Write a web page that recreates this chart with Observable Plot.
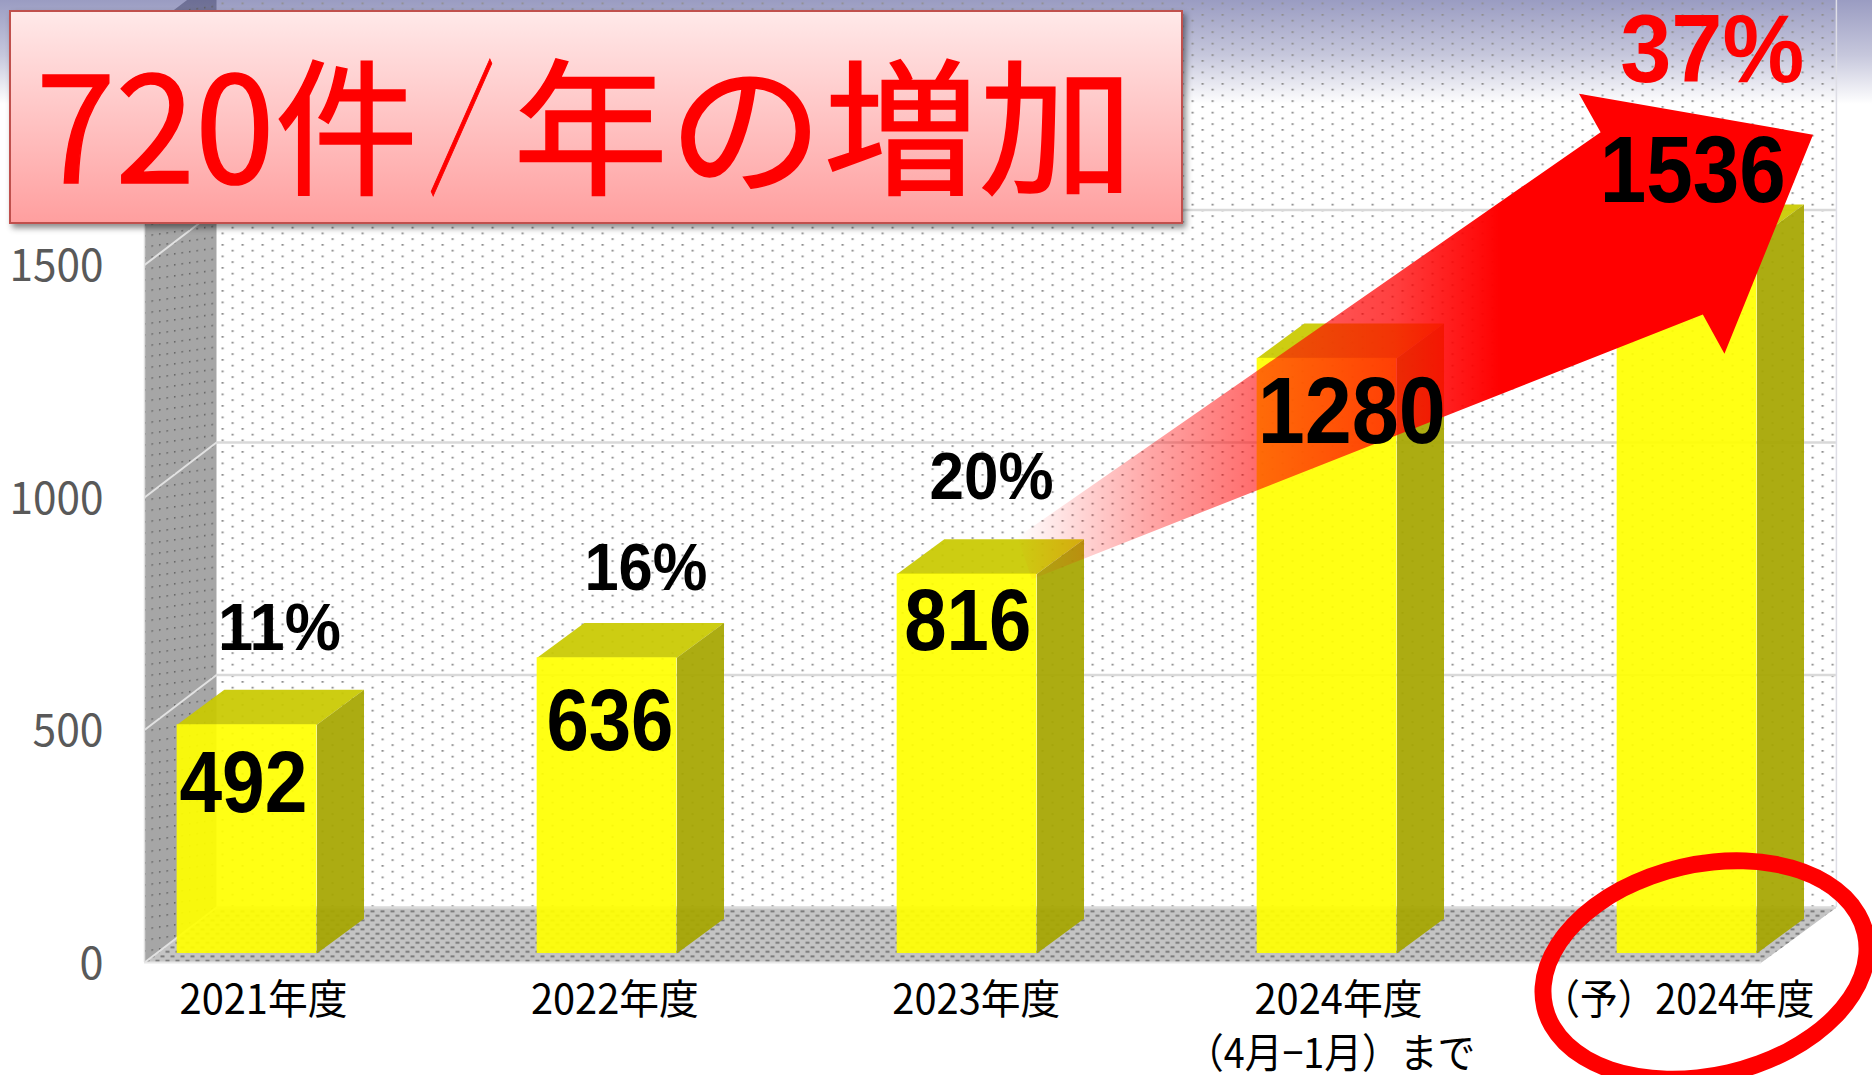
<!DOCTYPE html>
<html lang="ja">
<head>
<meta charset="utf-8">
<title>720件/年の増加</title>
<script src="https://cdn.jsdelivr.net/npm/d3@7"></script>
<script src="https://cdn.jsdelivr.net/npm/@observablehq/plot@0.6"></script>
<style>
  html, body { margin: 0; padding: 0; width: 1872px; height: 1075px; overflow: hidden; background: #fff; }
  body { position: relative; background: linear-gradient(to bottom, #9a9cc2 0, #c6c7dc 55px, #ffffff 104px); }
  #chart { position: absolute; left: 0; top: 0; }
  #chart svg { display: block; background: transparent; }
  #banner {
    position: absolute; left: 9px; top: 10px; width: 1170px; height: 210px; box-sizing: content-box;
    border: 2px solid #c0504d;
    background: linear-gradient(to bottom, #ffe9e9 0%, #ff9f9f 100%);
    box-shadow: 3px 4px 6px rgba(0,0,0,.45);
  }
  #banner svg { position: absolute; left: 0; top: 0; overflow: visible; }
  #banner text { font-family: "Noto Sans CJK JP", sans-serif; font-size: 147px; fill: #ff0000; stroke: #ff0000; stroke-width: 1.5px; }
  #ring {
    position: absolute; left: 1532px; top: 856px; width: 346px; height: 228px; box-sizing: border-box;
    border: 17px solid #ff0000; border-radius: 50%; transform: rotate(-13deg);
  }
</style>
</head>
<body>
<div id="chart"></div>
<div id="banner"><svg width="1170" height="210"><text y="171"><tspan x="25" textLength="382" lengthAdjust="spacingAndGlyphs">720件</tspan><tspan x="418" textLength="65" lengthAdjust="spacingAndGlyphs">&#xFF0F;</tspan><tspan x="502" textLength="621" lengthAdjust="spacingAndGlyphs">年の増加</tspan></text></svg></div>
<div id="ring"></div>
<script>
// ---- data ----
const forecastLabel = "\uFF08予\uFF092024年度";
const categories = ["2021年度", "2022年度", "2023年度", "2024年度", forecastLabel];
const counts = [492, 636, 816, 1280, 1536];
const shares = ["11%", "16%", "20%", "", "37%"];
const yTicks = [0, 500, 1000, 1500];

// ---- label placement, in scale units ----
const categoryX = [0.046, 0.022, 0.026, 0.032, -0.024];
const countX = [-0.01, 0.008, 0.002, 0.069, 0.016];
const countV = [305, 437, 652, 1098, 1616];
const countSize = [87, 87, 87, 94, 94];
const shareX = [0.09, 0.108, 0.068, 0, 0.07];
const shareV = [653, 782, 978, 0, 1875];
const shareSize = [67, 67, 67, 0, 96];
const secondLine = "\uFF084月−1月\uFF09まで";

// ---- 3-D box geometry, in scale units ----
const barHalf = 0.194, barDepthX = 0.131, barDepthV = 75;
const wallFrontX = -0.2847, wallBackX = -0.0847, rightBackX = 4.415, rightFrontX = 4.207;
const frontV = -19.5, backV = 99, topV = 2000;

// arrow outline, in scale units (x = category index, y = count)
const arrowX = [2.14, 3.76, 3.70, 4.35, 4.104, 4.044, 2.18];
const arrowV = [895, 1766, 1849, 1761, 1290, 1374, 805];

// ---- widths the glyph runs are fitted to ----
const runWidths = new Map([
  ["0", 24], ["500", 71], ["1000", 94], ["1500", 94],
  ["492", 128], ["636", 127], ["816", 127], ["1280", 188], ["1536", 186],
  ["11%", 123], ["16%", 123], ["20%", 124], ["37%", 184],
  ["2021年度", 168], ["2022年度", 168], ["2023年度", 168], ["2024年度", 168],
  [forecastLabel, 272], [secondLine, 289]
]);

const bars = categories.map((category, i) => ({category, i, count: counts[i], share: shares[i]}));
const poly = (xs, vs, fill, extra = {}) =>
  Plot.line(xs.map((x, k) => ({x, v: vs[k]})), {x: "x", y: "v", fill, stroke: "none", ...extra});

const defs = () => {
  const ns = "http://www.w3.org/2000/svg";
  const g = document.createElementNS(ns, "defs");
  g.innerHTML = `
    <pattern id="dots" width="20" height="11.5" patternUnits="userSpaceOnUse" x="1" y="2">
      <rect x="0" y="0" width="2.2" height="1.7" fill="#8f8f8f"/>
      <rect x="10" y="5.75" width="2.2" height="1.7" fill="#8f8f8f"/>
    </pattern>
    <pattern id="wallDots" width="7.5" height="11" patternUnits="userSpaceOnUse" patternTransform="skewY(-8)">
      <rect x="1" y="2" width="1.4" height="1.6" fill="#5f5f5f"/>
    </pattern>
    <pattern id="floorDots" width="10" height="9" patternUnits="userSpaceOnUse">
      <rect x="0" y="1" width="4" height="1.6" fill="#6a6a6a"/>
      <rect x="5" y="5.5" width="4" height="1.6" fill="#6a6a6a"/>
    </pattern>
    <linearGradient id="wallFill" gradientUnits="userSpaceOnUse" x1="0" y1="0" x2="0" y2="104">
      <stop offset="0" stop-color="#6d6f96"/><stop offset="1" stop-color="#a6a6a6"/>
    </linearGradient>
    <linearGradient id="arrowFill" gradientUnits="userSpaceOnUse" x1="1015" y1="0" x2="1500" y2="0">
      <stop offset="0" stop-color="#ff0000" stop-opacity="0"/>
      <stop offset="0.1" stop-color="#ff0000" stop-opacity="0.12"/>
      <stop offset="0.28" stop-color="#ff0000" stop-opacity="0.35"/>
      <stop offset="0.5" stop-color="#ff0000" stop-opacity="0.58"/>
      <stop offset="0.78" stop-color="#ff0000" stop-opacity="0.75"/>
      <stop offset="0.88" stop-color="#ff0000" stop-opacity="0.87"/>
      <stop offset="1" stop-color="#ff0000" stop-opacity="1"/>
    </linearGradient>`;
  return g;
};

const sans = "'Noto Sans CJK JP', sans-serif";
const bold = "'Liberation Sans', Arial, sans-serif";

const chart = Plot.plot({
  width: 1872,
  height: 1075,
  marginLeft: 144,
  marginRight: 0,
  marginTop: 0,
  marginBottom: 0,
  style: {background: "transparent", overflow: "hidden"},
  x: {type: "linear", domain: [0, 4], range: [246.5, 1686.5], axis: null},
  y: {type: "linear", domain: [0, 2000], range: [953, 23], label: null},
  marks: [
    defs,
    // back wall, side wall, floor
    poly([wallBackX, rightBackX, rightBackX, wallBackX], [topV + backV, topV + backV, backV, backV], "url(#dots)"),
    poly([wallFrontX, wallBackX, wallBackX, wallFrontX], [topV + frontV, topV + backV, backV, frontV], "url(#wallFill)"),
    poly([wallFrontX, wallBackX, wallBackX, wallFrontX], [topV + frontV, topV + backV, backV, frontV], "url(#wallDots)"),
    poly([wallFrontX, wallBackX, rightBackX, rightFrontX], [frontV, backV, backV, frontV], "#c4c4c4"),
    poly([wallFrontX, wallBackX, rightBackX, rightFrontX], [frontV, backV, backV, frontV], "url(#floorDots)"),
    // grid lines
    Plot.ruleY(yTicks, {y: d => d + backV, x1: wallBackX, x2: rightBackX, stroke: "#d9d9d9", strokeWidth: 2.5}),
    Plot.link(yTicks, {x1: wallFrontX, x2: wallBackX, y1: d => d + frontV, y2: d => d + backV, stroke: "#e2e2e2", strokeWidth: 2}),
    Plot.ruleY([frontV], {x1: wallFrontX, x2: rightFrontX, stroke: "#e6e6e6", strokeWidth: 2}),
    Plot.ruleX([rightBackX], {y1: backV, y2: topV + backV, stroke: "#dedee6", strokeWidth: 1.5}),
    Plot.ruleX([wallFrontX], {y1: frontV, y2: topV + frontV, stroke: "#e0e0e0", strokeWidth: 1.5}),
    // 3-D bars: top, side, front
    ...bars.map(d => poly(
      [d.i - barHalf, d.i - barHalf + barDepthX, d.i + barHalf + barDepthX, d.i + barHalf],
      [d.count, d.count + barDepthV, d.count + barDepthV, d.count], "#c9c900", {fillOpacity: 0.93})),
    ...bars.map(d => poly(
      [d.i + barHalf, d.i + barHalf + barDepthX, d.i + barHalf + barDepthX, d.i + barHalf],
      [0, barDepthV, d.count + barDepthV, d.count], "#a6a600", {fillOpacity: 0.93})),
    Plot.rectY(bars, {x1: d => d.i - barHalf, x2: d => d.i + barHalf, y1: 0, y2: "count", fill: "#ffff00", fillOpacity: 0.92}),
    // arrow
    poly(arrowX, arrowV, "url(#arrowFill)"),
    // axis and labels
    Plot.axisY({ticks: yTicks, tickSize: 0, tickPadding: 41, dy: 11, label: null, tickFormat: d => String(d),
      fontSize: 44, fontFamily: sans, color: "#595959"}),
    Plot.text(bars, {x: d => d.i + countX[d.i], y: d => countV[d.i], text: d => String(d.count),
      fontSize: d => countSize[d.i], fontWeight: 700, fontFamily: bold, fill: "#000", lineAnchor: "bottom"}),
    Plot.text(bars.filter(d => d.share), {x: d => d.i + shareX[d.i], y: d => shareV[d.i], text: "share",
      fontSize: d => shareSize[d.i], fill: d => d.i === 4 ? "#ff0000" : "#000000", fontWeight: 700, fontFamily: bold, lineAnchor: "bottom"}),
    Plot.text(bars, {x: d => d.i + categoryX[d.i], y: -130, text: "category",
      fontSize: 41, fontFamily: sans, fill: "#000", lineAnchor: "bottom"}),
    Plot.text([secondLine], {x: 3.01, y: -246, text: d => d,
      fontSize: 41, fontFamily: sans, fill: "#000", lineAnchor: "bottom"})
  ]
});
document.getElementById("chart").append(chart);

// fit each glyph run to the width it has in the picture
chart.querySelectorAll("text").forEach(t => {
  const s = t.textContent;
  if (runWidths.has(s)) {
    t.setAttribute("textLength", runWidths.get(s));
    t.setAttribute("lengthAdjust", "spacingAndGlyphs");
  }
});
</script>
</body>
</html>
